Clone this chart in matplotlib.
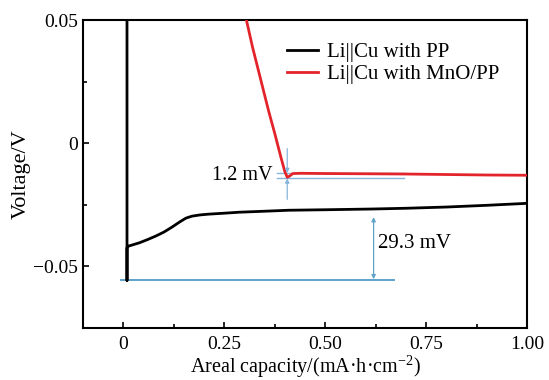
import matplotlib
matplotlib.use("Agg")
import matplotlib.pyplot as plt
from matplotlib.ticker import MultipleLocator

plt.rcParams['font.family'] = ['Liberation Serif', 'DejaVu Serif']
plt.rcParams['mathtext.fontset'] = 'custom'
plt.rcParams['mathtext.rm'] = 'Liberation Serif'

# Data
pp_x = [0.009, 0.009, 0.009, 0.012, 0.02, 0.04, 0.06, 0.08, 0.10, 0.12, 0.14, 0.155, 0.17,
        0.19, 0.21, 0.25, 0.287, 0.35, 0.41, 0.50, 0.616, 0.70, 0.80, 0.90, 1.00]
pp_y = [0.070, -0.0557, -0.0425, -0.0418, -0.0414, -0.0404, -0.0391, -0.0377, -0.0361, -0.0341, -0.0319,
        -0.0304, -0.0296, -0.0291, -0.0288, -0.0284, -0.0280, -0.0276, -0.0272, -0.0270,
        -0.0267, -0.0264, -0.0259, -0.0252, -0.0244]

mno_x = [0.298, 0.320, 0.340, 0.360, 0.375, 0.390, 0.400, 0.406, 0.412, 0.420, 0.440, 0.50, 0.60,
         0.70, 0.80, 0.90, 1.00]
mno_y = [0.055, 0.039, 0.026, 0.013, 0.004, -0.0055, -0.0115, -0.0138, -0.0133, -0.0123, -0.0122,
         -0.0123, -0.0124, -0.0125, -0.0127, -0.0129, -0.0130]

baseline_y = -0.0557
baseline_x = [-0.007, 0.671]
gap_upper = -0.0121
gap_lower = -0.0143
gap_x = [0.380, 0.695]

fig = plt.figure(figsize=(5.49, 3.80), dpi=100)
ax = fig.add_axes([0.1512, 0.1368, 0.8087, 0.8105])

blue = '#5fa3c9'
lblue = '#86b6dc'

ax.plot(baseline_x, [baseline_y, baseline_y], color=blue, lw=1.4, zorder=1)
ax.plot(gap_x, [gap_upper, gap_upper], color=lblue, lw=1.0, zorder=1)
ax.plot(gap_x, [gap_lower, gap_lower], color=lblue, lw=1.0, zorder=1)

ax.plot(pp_x, pp_y, color='black', lw=2.0, label='Li||Cu with PP', zorder=3)
ax.plot(mno_x, mno_y, color='#e3242b', lw=2.0, label='Li||Cu with MnO/PP', zorder=3)

# 29.3 mV arrow
ax.annotate('', xy=(0.62, baseline_y + 0.0005), xytext=(0.62, -0.0300),
            arrowprops=dict(arrowstyle='<|-|>', color=blue, lw=0.9, mutation_scale=6, shrinkA=0, shrinkB=0))
ax.text(0.632, -0.0405, '29.3 mV', fontsize=15, va='center', ha='left')

# 1.2 mV arrows
ax.annotate('', xy=(0.406, gap_upper), xytext=(0.406, -0.0022),
            arrowprops=dict(arrowstyle='-|>', color=lblue, lw=0.9, mutation_scale=6, shrinkA=0, shrinkB=0))
ax.annotate('', xy=(0.406, gap_lower), xytext=(0.406, -0.0228),
            arrowprops=dict(arrowstyle='-|>', color=lblue, lw=0.9, mutation_scale=6, shrinkA=0, shrinkB=0))
ax.text(0.370, -0.0133, '1.2 mV', fontsize=14.5, va='center', ha='right')

ax.set_xlim(-0.1, 1.0)
ax.set_ylim(-0.075, 0.05)
ax.set_xticks([0, 0.25, 0.5, 0.75, 1.0])
ax.set_xticklabels(['0', '0.25', '0.50', '0.75', '1.00'])
ax.set_yticks([-0.05, 0, 0.05])
ax.set_yticklabels(['\u22120.05', '0', '0.05'])
ax.xaxis.set_minor_locator(MultipleLocator(0.125))
ax.yaxis.set_minor_locator(MultipleLocator(0.025))
ax.tick_params(which='both', direction='in', top=False, right=False, labelsize=14, width=1.2)
ax.tick_params(which='major', length=4)
ax.tick_params(which='minor', length=3)
ax.tick_params(axis='x', pad=6)
for s in ax.spines.values():
    s.set_linewidth(1.5)

ax.set_xlabel('Areal capacity/(mA\u00b7h\u00b7cm$^{\\mathregular{-2}}$)', fontsize=14.5, labelpad=0)
ax.set_ylabel('Voltage/V', fontsize=16, labelpad=2)

ax.legend(loc='upper left', bbox_to_anchor=(0.44, 0.955), frameon=False, fontsize=15,
          handlelength=1.5, handletextpad=0.45, labelspacing=0.12, borderaxespad=0.0)

fig.savefig('out.png', dpi=100)
